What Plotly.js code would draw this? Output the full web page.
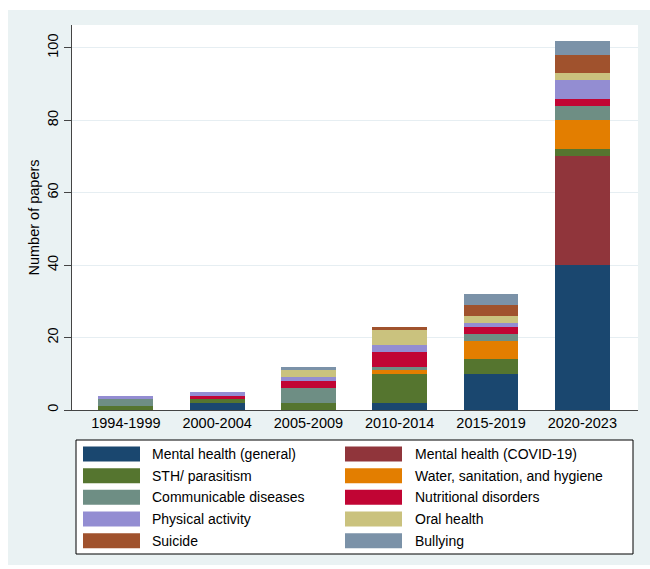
<!DOCTYPE html>
<html><head><meta charset="utf-8">
<script src="https://cdn.plot.ly/plotly-3.0.1.min.js"></script>
<style>html,body{margin:0;padding:0;background:#fff}</style>
</head><body><div id="chart" style="width:650px;height:569px"></div>
<script>
const periods = ['1994-1999','2000-2004','2005-2009','2010-2014','2015-2019','2020-2023'];
const mentalGeneral = [0,2,0,2,10,40];
const mentalCovid   = [0,0,0,0,0,30];
const sth           = [1,1,2,8,4,2];
const wash          = [0,0,0,1,5,8];
const communicable  = [2,0,4,1,2,4];
const nutritional   = [0,1,2,4,2,2];
const physical      = [1,1,1,2,1,5];
const oral          = [0,0,2,4,2,2];
const suicide       = [0,0,0,1,3,5];
const bullying      = [0,0,1,0,3,4];

const seriesNames = ['Mental health (general)','Mental health (COVID-19)','STH/ parasitism','Water, sanitation, and hygiene','Communicable diseases','Nutritional disorders','Physical activity','Oral health','Suicide','Bullying'];
const seriesValues = [mentalGeneral, mentalCovid, sth, wash, communicable, nutritional, physical, oral, suicide, bullying];
const seriesColors = ['#1a476f','#90353b','#55752f','#e37e00','#6e8e84','#c10534','#938dd2','#cac27e','#a0522d','#7b92a8'];
const yTicks = [0,20,40,60,80,100];

const FONT = 'Liberation Sans, Arial, Helvetica, sans-serif';
const W = 650, H = 569, ML = 72, MR = 12, MT = 25, MB = 159;
const PW = W - ML - MR, PH = H - MT - MB;
const px = x => (x - ML) / PW;
const py = y => (H - MB - y) / PH;

const traces = seriesNames.map((name, i) => ({
  type: 'bar', name: name, x: periods, y: seriesValues[i],
  marker: {color: seriesColors[i], line: {width: 0}},
  showlegend: false, hoverinfo: 'x+y+name'
}));

const shapes = [
  {type:'rect', xref:'paper', yref:'paper', x0:px(0), x1:px(W), y0:py(0), y1:py(10), fillcolor:'#fff', line:{width:0}, layer:'below'},
  {type:'rect', xref:'paper', yref:'paper', x0:px(0), x1:px(8), y0:py(0), y1:py(H), fillcolor:'#fff', line:{width:0}, layer:'below'},
  {type:'rect', xref:'paper', yref:'paper', x0:px(0), x1:px(W), y0:py(565), y1:py(H), fillcolor:'#fff', line:{width:0}, layer:'below'},
  {type:'rect', xref:'paper', yref:'paper', x0:px(76), x1:px(633), y0:py(440), y1:py(554), fillcolor:'#fff', line:{color:'#000', width:1}}
];
const annotations = [];
const rowY = [454, 475.7, 497.3, 519, 540.7];
const swX = [83, 345], txX = [150, 413];
seriesNames.forEach((name, i) => {
  const r = Math.floor(i / 2), c = i % 2;
  shapes.push({type:'rect', xref:'paper', yref:'paper', x0:px(swX[c]), x1:px(swX[c] + 57), y0:py(rowY[r] + 7.5), y1:py(rowY[r] - 7.5), fillcolor: seriesColors[i], line:{width:0}});
  annotations.push({xref:'paper', yref:'paper', x:px(txX[c]), y:py(rowY[r]), xanchor:'left', yanchor:'middle', text:name, showarrow:false, font:{family:FONT, size:14, color:'#000'}});
});

const layout = {
  width: W, height: H,
  margin: {l: ML, r: MR, t: MT, b: MB, pad: 0},
  paper_bgcolor: '#eaf2f3', plot_bgcolor: '#ffffff',
  barmode: 'stack', bargap: 0.4,
  font: {family: FONT, size: 14, color: '#000'},
  showlegend: false,
  xaxis: {type:'category', range:[-0.59, 5.61], showline:true, linecolor:'#444', linewidth:1, ticks:'', showgrid:false, zeroline:false, tickfont:{size:14.5, color:'#000'}, fixedrange:true},
  yaxis: {range:[0, 106.3], tickvals:yTicks, ticktext:yTicks.map(String), ticks:'outside', ticklen:7, tickcolor:'#444', showline:true, linecolor:'#444', linewidth:1, showgrid:true, gridcolor:'#e6eef2', gridwidth:1, zeroline:false, tickangle:-90, tickfont:{size:14.5, color:'#000'}, title:{text:'Number of papers', font:{size:14.5, color:'#000'}, standoff:2}, fixedrange:true},
  shapes: shapes, annotations: annotations
};
Plotly.newPlot('chart', traces, layout, {displayModeBar:false, staticPlot:true});
</script></body></html>
